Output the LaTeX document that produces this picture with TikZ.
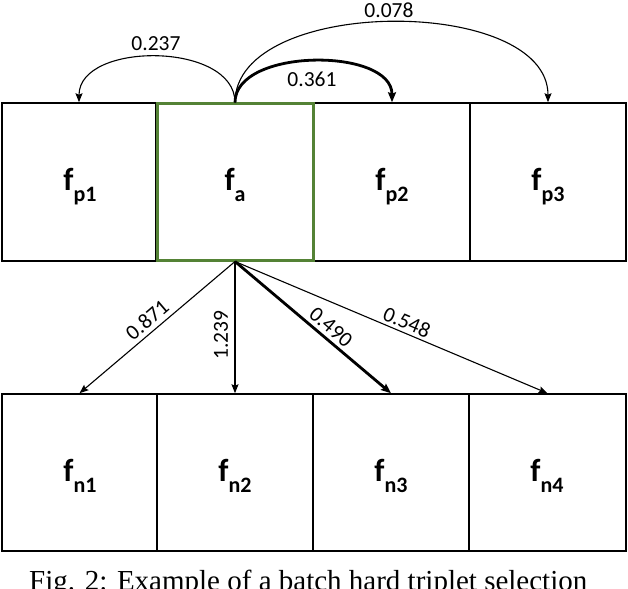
\documentclass[tikz,border=0pt]{standalone}
\usepackage{fontspec}
\setmainfont{Carlito}
\newfontfamily\capfont{Liberation Serif}
\usetikzlibrary{arrows.meta}
\definecolor{boxgreen}{RGB}{84,130,53}
\newcommand\flab[1]{f\raisebox{-11pt}{\fontsize{22}{22}\selectfont #1}}
\tikzset{
  box/.style={draw=black, line width=1.5pt, minimum height=158pt, inner sep=0pt},
  anchorbox/.style={draw=boxgreen, line width=3pt, minimum width=156pt, minimum height=156pt, inner sep=0pt},
  flabel/.style={font=\fontsize{32}{36}\selectfont\bfseries, inner sep=0pt, anchor=base},
  num/.style={font=\fontsize{21.5}{25}\selectfont, inner sep=0pt},
  thinarr/.style={line width=1.1pt, -{Stealth[length=9pt,width=7pt,inset=1.5pt]}},
  thickarr/.style={line width=2.8pt, -{Stealth[length=10pt,width=8pt,inset=1.5pt]}}
}
\begin{document}
\begin{tikzpicture}[x=1pt,y=-1pt]
\useasboundingbox (0,0) rectangle (628,588);
\clip (0,0) rectangle (628,588);
% top row
\node[box, minimum width=154pt] (p1) at (79,182) {};
\node[box, minimum width=156pt] (p2) at (392,182) {};
\node[box, minimum width=156pt] (p3) at (548,182) {};
\node[anchorbox] (a) at (235,182) {};
% bottom row
\node[box, minimum width=155pt, minimum height=157pt] (n1) at (79.5,472.5) {};
\node[box, minimum width=156pt, minimum height=157pt] (n2) at (235,472.5) {};
\node[box, minimum width=156pt, minimum height=157pt] (n3) at (391,472.5) {};
\node[box, minimum width=157pt, minimum height=157pt] (n4) at (547.5,472.5) {};
% labels
\node[flabel] (tp1) at (80,190) {\flab{p1}};
\node[flabel] (ta) at (235,190) {\flab{a}};
\node[flabel] (tp2) at (392,190) {\flab{p2}};
\node[flabel] (tp3) at (548,190) {\flab{p3}};
\node[flabel] (tn1) at (80,481) {\flab{n1}};
\node[flabel] (tn2) at (235,481) {\flab{n2}};
\node[flabel] (tn3) at (391,481) {\flab{n3}};
\node[flabel] (tn4) at (547,481) {\flab{n4}};
% top arcs
\draw[thinarr] (a.north) .. controls +(0,-61) and +(0,-61) .. (p1.north);
\draw[thickarr] (a.north) .. controls +(0,-55) and +(0,-55) .. (p2.north);
\draw[thinarr] (a.north) .. controls +(0,-107) and +(0,-107) .. (p3.north);
\node[num] (l237) at (156,44) {0.237};
\node[num] (l361) at (312,79) {0.361};
\node[num] (l078) at (389,10) {0.078};
% bottom arrows
\draw[thinarr] (a.south) -- (n1.north);
\draw[thinarr] (a.south) -- (n2.north);
\draw[thickarr] (a.south) -- (n3.north);
\draw[thinarr] (a.south) -- (n4.north);
\node[num, rotate=40.6] (l871) at (147,320) {0.871};
\node[num, rotate=90] (l1239) at (221,335) {1.239};
\node[num, rotate=-40.4] (l490) at (331,327) {0.490};
\node[num, rotate=-23.1] (l548) at (407,322) {0.548};
% caption (cut at the bottom edge)
\node[font=\capfont\fontsize{29}{32}\selectfont, inner sep=0pt, anchor=base west] (cap) at (29,590) {Fig. 2: Example of a batch hard triplet selection};
\end{tikzpicture}
\end{document}
